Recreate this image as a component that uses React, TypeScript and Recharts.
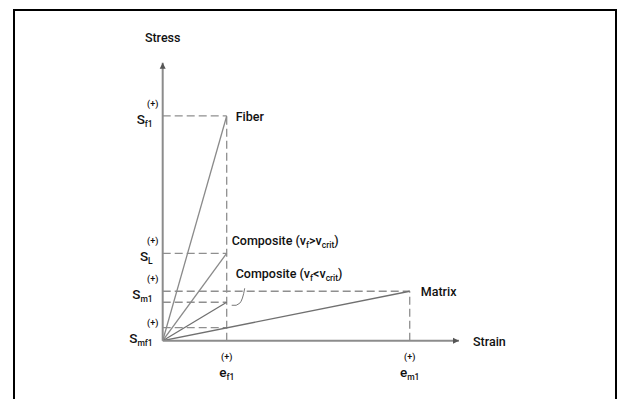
import React from 'react';
import {
  ComposedChart,
  Line,
  XAxis,
  YAxis,
  ReferenceLine,
  ReferenceDot
} from 'recharts';

// strain values (arbitrary units, e_f1 = 1)
const strainTicks = [1, 3.86];
const strainTickSubs = ['f1', 'm1'];
const strainMax = 4.63;

// stress values (arbitrary units, S_f1 = 100)
const stressTicks = [100, 38.9, 22, 5.8];
const stressTickSubs = ['f1', 'L', 'm1', 'mf1'];
const stressMax = 123.7;

// series, from the origin to failure
const fiber = [{ x: 0, y: 0 }, { x: 1, y: 100 }];
const compositeHigh = [{ x: 0, y: 0 }, { x: 1, y: 38.9 }];
const compositeLow = [{ x: 0, y: 0 }, { x: 1, y: 17.1 }];
const matrix = [{ x: 0, y: 0 }, { x: 3.86, y: 22 }];

const FONT = "Roboto, 'Open Sans', sans-serif";
const LINE = '#8a8a8a';
const DASH = '#8f8f8f';
const TEXT = '#111';
const FS = 12.5;
const SUB = 8.5;

const StressTick = (props: any) => {
  const { y, index } = props;
  const sub = stressTickSubs[index] ?? '';
  const ax = 162.7;
  const dy = sub === 'mf1' ? 11 : 4;
  return (
    <g fontFamily={FONT} fill={TEXT} fontWeight={500}>
      <text x={ax - 10} y={y + dy - 13} fontSize={9} textAnchor="middle">(+)</text>
      <text x={ax - 10} y={y + dy + 4} fontSize={FS + 1} textAnchor="end">
        S<tspan fontSize={SUB} dy={3}>{sub}</tspan>
      </text>
    </g>
  );
};

const StrainTick = (props: any) => {
  const { x, index } = props;
  const sub = strainTickSubs[index] ?? '';
  const ay = 340.7;
  return (
    <g fontFamily={FONT} fill={TEXT} fontWeight={500}>
      <text x={x} y={ay + 19} fontSize={9} textAnchor="middle">(+)</text>
      <text x={x} y={ay + 36} fontSize={FS + 1} textAnchor="middle">
        e<tspan fontSize={SUB} dy={3}>{sub}</tspan>
      </text>
    </g>
  );
};

const SeriesLabel = (text: React.ReactNode, dx: number, dy: number) => (props: any) => (
  <text x={props.cx + dx} y={props.cy + dy} fontFamily={FONT} fontSize={FS} fill={TEXT} fontWeight={500}>
    {text}
  </text>
);

const compLabel = (sign: string) => (
  <>
    Composite (v<tspan fontSize={SUB} dy={3}>f</tspan>
    <tspan dy={-3}>{sign}v</tspan>
    <tspan fontSize={SUB} dy={3}>crit</tspan>
    <tspan dy={-3}>)</tspan>
  </>
);

const LowLabel = (props: any) => {
  const { cx, cy } = props;
  return (
    <g>
      <text x={cx + 9} y={cy - 24} fontFamily={FONT} fontSize={FS} fill={TEXT} fontWeight={500}>
        {compLabel('<')}
      </text>
      <path
        d={`M ${cx + 18} ${cy - 14} Q ${cx + 16} ${cy - 2} ${cx + 13} ${cy + 1} Q ${cx + 10} ${cy + 4} ${cx + 5} ${cy + 3}`}
        stroke="#777"
        fill="none"
        strokeWidth={1}
      />
    </g>
  );
};

const ArrowRight = (props: any) => (
  <path d={`M ${props.cx} ${props.cy} l -6 -3 l 0 6 z`} fill="#555" />
);
const ArrowUp = (props: any) => (
  <path d={`M ${props.cx} ${props.cy} l -3 6 l 6 0 z`} fill="#555" />
);

const dashed = { stroke: DASH, strokeDasharray: '8 4', strokeWidth: 1.3, ifOverflow: 'visible' as const };

export default function App() {
  return (
    <div style={{ position: 'absolute', left: 0, top: 0, width: 618, height: 399, overflow: 'hidden', background: '#fff' }}>
      <div style={{ position: 'absolute', left: 13, top: 9, width: 600, height: 420, border: '2.5px solid #000' }} />
      <ComposedChart
        width={618}
        height={399}
        margin={{ top: 62.7, right: 159, bottom: 18.3, left: 102.7 }}
        style={{ position: 'absolute', left: 0, top: 0 }}
      >
        <XAxis
          type="number"
          dataKey="x"
          domain={[0, strainMax]}
          ticks={strainTicks}
          tick={<StrainTick />}
          tickLine={false}
          axisLine={{ stroke: '#8c8c8c', strokeWidth: 2 }}
          height={40}
          allowDataOverflow
        />
        <YAxis
          type="number"
          dataKey="y"
          domain={[0, stressMax]}
          ticks={stressTicks}
          tick={<StressTick />}
          tickLine={false}
          axisLine={{ stroke: '#8c8c8c', strokeWidth: 2 }}
          width={60}
          allowDataOverflow
        />

        <ReferenceLine segment={[{ x: 0, y: 100 }, { x: 1, y: 100 }]} {...dashed} />
        <ReferenceLine segment={[{ x: 1, y: 0 }, { x: 1, y: 100 }]} {...dashed} />
        <ReferenceLine segment={[{ x: 0, y: 38.9 }, { x: 1, y: 38.9 }]} {...dashed} />
        <ReferenceLine segment={[{ x: 0, y: 22 }, { x: 3.86, y: 22 }]} {...dashed} />
        <ReferenceLine segment={[{ x: 0, y: 17.1 }, { x: 1, y: 17.1 }]} {...dashed} />
        <ReferenceLine segment={[{ x: 0, y: 5.8 }, { x: 1, y: 5.8 }]} {...dashed} />
        <ReferenceLine segment={[{ x: 3.86, y: 0 }, { x: 3.86, y: 22 }]} {...dashed} />

        <Line data={fiber} dataKey="y" stroke={LINE} strokeWidth={1.3} dot={false} isAnimationActive={false} />
        <Line data={compositeHigh} dataKey="y" stroke={LINE} strokeWidth={1.3} dot={false} isAnimationActive={false} />
        <Line data={compositeLow} dataKey="y" stroke="#707070" strokeWidth={1.3} dot={false} isAnimationActive={false} />
        <Line data={matrix} dataKey="y" stroke="#707070" strokeWidth={1.3} dot={false} isAnimationActive={false} />

        <ReferenceDot x={1} y={100} r={0} ifOverflow="visible" shape={SeriesLabel('Fiber', 9, 5)} />
        <ReferenceDot x={1} y={38.9} r={0} ifOverflow="visible" shape={SeriesLabel(compLabel('>'), 5, -8)} />
        <ReferenceDot x={1} y={17.1} r={0} ifOverflow="visible" shape={LowLabel} />
        <ReferenceDot x={3.86} y={22} r={0} ifOverflow="visible" shape={SeriesLabel('Matrix', 11, 5)} />

        <ReferenceDot x={strainMax} y={0} r={0} ifOverflow="visible" shape={ArrowRight} />
        <ReferenceDot x={0} y={stressMax} r={0} ifOverflow="visible" shape={ArrowUp} />
        <ReferenceDot x={strainMax} y={0} r={0} ifOverflow="visible"
          shape={(p: any) => <text x={p.cx + 14} y={p.cy + 5} fontFamily={FONT} fontSize={FS} fill={TEXT} fontWeight={500}>Strain</text>} />
        <ReferenceDot x={0} y={stressMax} r={0} ifOverflow="visible"
          shape={(p: any) => <text x={p.cx} y={p.cy - 21} fontFamily={FONT} fontSize={FS} fill={TEXT} fontWeight={500} textAnchor="middle">Stress</text>} />
      </ComposedChart>
    </div>
  );
}
